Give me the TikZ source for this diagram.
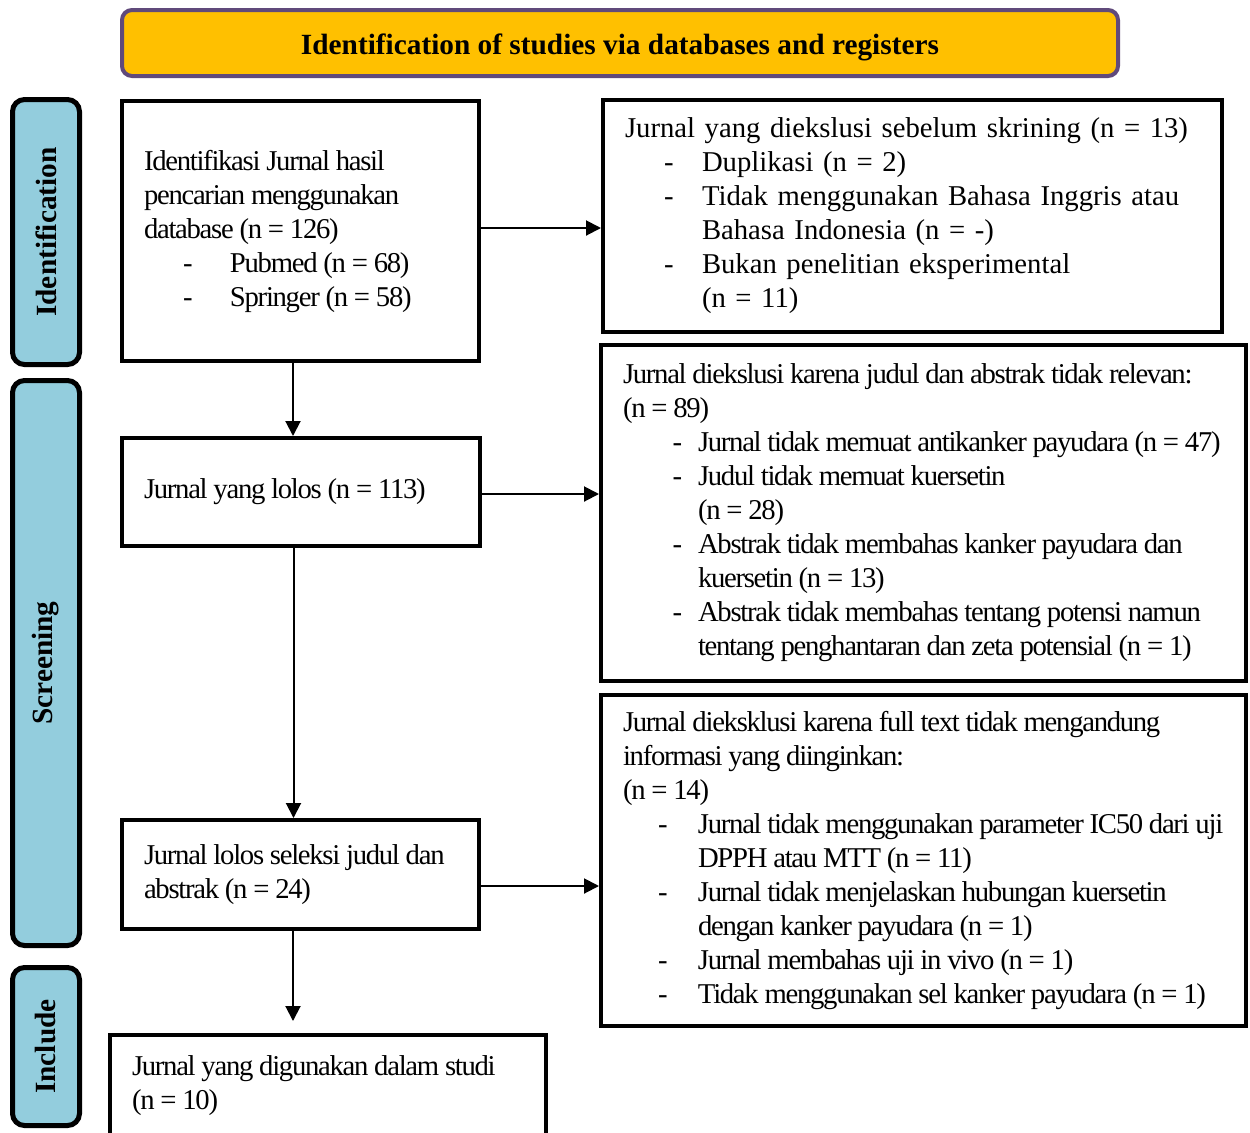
\documentclass[tikz,border=0pt]{standalone}
\usepackage{fontspec}
\setmainfont{Liberation Serif}
\newfontfamily\tightserif[LetterSpace=-4.5]{Liberation Serif}
\usetikzlibrary{arrows.meta}

\definecolor{bannergold}{HTML}{FFC000}
\definecolor{bannerline}{HTML}{604A7B}
\definecolor{stageblue}{HTML}{93CDDD}

% dash line and continuation line inside the boxes
\newcommand{\dashln}[3]{\mbox{\hspace*{#1}\makebox[#2][l]{-}#3}}
\newcommand{\contln}[2]{\mbox{\hspace*{#1}#2}}
\DeclareRobustCommand{\narrowspace}{\spaceskip=2.9pt plus 0.5pt minus 0.3pt\relax}

\tikzset{
  frame/.style={draw, line width=2pt, align=left, inner ysep=2pt, inner xsep=11pt},
  box/.style={frame, font=\tightserif\fontsize{14.35}{17}\selectfont, execute at begin node=\narrowspace},
  plainbox/.style={frame, font=\rmfamily\fontsize{14.35}{17}\selectfont},
  stage/.style={draw, line width=2.5pt, fill=stageblue, rounded corners=6pt, rotate=90, minimum height=33.5pt, font=\bfseries\fontsize{14.66}{17}\selectfont},
  flow/.style={-{Triangle[length=7.5pt,width=7.5pt]}, line width=1pt}
}

\begin{document}
\begin{tikzpicture}[x=0.5pt, y=-0.5pt]
\useasboundingbox (0,0) rectangle (1250,1132);

\node[draw=bannerline, line width=2pt, fill=bannergold, rounded corners=5pt, minimum width=498pt, minimum height=33pt, text height=12pt, text depth=0.6pt, font=\bfseries\fontsize{14.66}{17}\selectfont] (banner) at (620,43) {Identification of studies via databases and registers};

% stages
\node[stage, minimum width=132.5pt] (sid) at (46,232) {Identification};
\node[stage, minimum width=282.5pt] (sscr) at (46,663) {Screening};
\node[stage, minimum width=79pt] (sinc) at (46,1046.5) {Include};

% left column
\node[box, text width=156.5pt, minimum height=130pt] (b1) at (300.5,231) {\mbox{Identifikasi Jurnal hasil}\\
\mbox{pencarian menggunakan}\\
\mbox{database (n = 126)}\\
\dashln{19.5pt}{23.5pt}{Pubmed (n = 68)}\\
\dashln{19.5pt}{23.5pt}{Springer (n = 58)}};
\node[box, text width=157pt, minimum height=54pt] (b2) at (301,492) {\mbox{Jurnal yang lolos (n = 113)}};
\node[box, text width=156.5pt, minimum height=54.5pt] (b3) at (300.5,874.5) {\mbox{Jurnal lolos seleksi judul dan}\\
\mbox{abstrak (n = 24)}};
\node[box, text width=196pt, minimum height=51pt] (b4) at (328,1086) {\mbox{Jurnal yang digunakan dalam studi}\\
(n = 10)};

% right column
\node[plainbox, text width=287.5pt, minimum height=116pt] (r1) at (912.5,216) {\mbox{Jurnal yang diekslusi sebelum skrining (n = 13)}\\
\dashln{19.5pt}{19pt}{Duplikasi (n = 2)}\\
\dashln{19.5pt}{19pt}{Tidak menggunakan Bahasa Inggris atau}\\
\contln{38.5pt}{Bahasa Indonesia (n = -)}\\
\dashln{19.5pt}{19pt}{Bukan penelitian eksperimental}\\
\contln{38.5pt}{(n = 11)}};
\node[box, text width=300.5pt, minimum height=168pt] (r2) at (923.5,512.5) {\mbox{Jurnal diekslusi karena judul dan abstrak tidak relevan:}\\
(n = 89)\\
\dashln{24.8pt}{12.7pt}{Jurnal tidak memuat antikanker payudara (n = 47)}\\
\dashln{24.8pt}{12.7pt}{Judul tidak memuat kuersetin}\\
\contln{37.5pt}{(n = 28)}\\
\dashln{24.8pt}{12.7pt}{Abstrak tidak membahas kanker payudara dan}\\
\contln{37.5pt}{kuersetin (n = 13)}\\
\dashln{24.8pt}{12.7pt}{Abstrak tidak membahas tentang potensi namun}\\
\contln{37.5pt}{tentang penghantaran dan zeta potensial (n = 1)}};
\node[box, text width=300.5pt, minimum height=165.5pt] (r3) at (923.5,860) {\mbox{Jurnal dieksklusi karena full text tidak mengandung}\\
\mbox{informasi yang diinginkan:}\\
(n = 14)\\
\dashln{17.5pt}{20pt}{Jurnal tidak menggunakan parameter IC50 dari uji}\\
\contln{37.5pt}{DPPH atau MTT (n = 11)}\\
\dashln{17.5pt}{20pt}{Jurnal tidak menjelaskan hubungan kuersetin}\\
\contln{37.5pt}{dengan kanker payudara (n = 1)}\\
\dashln{17.5pt}{20pt}{Jurnal membahas uji in vivo (n = 1)}\\
\dashln{17.5pt}{20pt}{Tidak menggunakan sel kanker payudara (n = 1)}};

% arrows
\draw[flow] ([xshift=-3.75pt]b1.south) -- ([xshift=-3.75pt]b1.south |- b2.north);
\draw[flow] ([xshift=-3.75pt]b2.south) -- ([xshift=-3.75pt]b2.south |- b3.north);
\draw[flow, shorten >=6pt] ([xshift=-3.75pt]b3.south) -- ([xshift=-3.75pt]b3.south |- b4.north);
\draw[flow] ([yshift=1.5pt]b1.east) -- ([yshift=1.5pt]b1.east -| r1.west);
\draw[flow] ([yshift=-1pt]b2.east) -- ([yshift=-1pt]b2.east -| r2.west);
\draw[flow] ([yshift=-5.75pt]b3.east) -- ([yshift=-5.75pt]b3.east -| r3.west);
\end{tikzpicture}
\end{document}
